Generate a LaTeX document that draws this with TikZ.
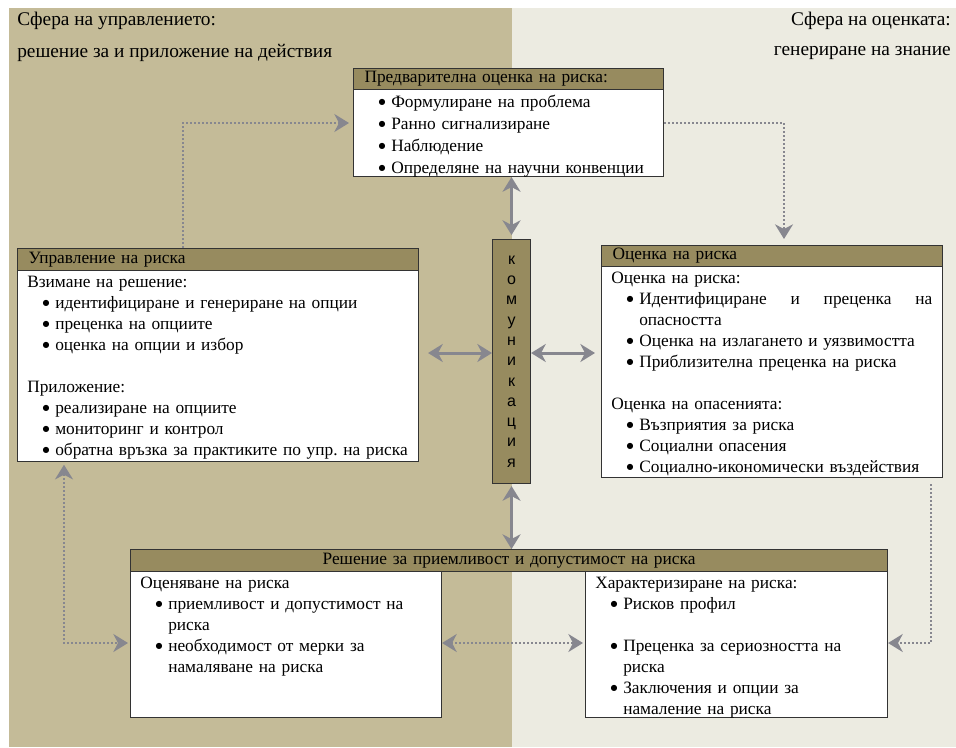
\documentclass[tikz,border=0pt]{standalone}
\usepackage{fontspec}
\setmainfont{Liberation Serif}
\newfontfamily\barfont{Liberation Sans}
\newfontfamily\dotfont{DejaVu Sans}
\usepackage{xcolor}
\usetikzlibrary{arrows.meta,calc}

\definecolor{leftbg}{HTML}{C4BB98}
\definecolor{rightbg}{HTML}{ECEBE1}
\definecolor{hdrcol}{HTML}{978B5F}
\definecolor{arrcol}{HTML}{87878F}
\setlength{\parindent}{0pt}
\frenchspacing
\newcommand{\itm}[1]{\hangindent=21pt\hangafter=1\noindent\hspace*{11.5pt}%
  \makebox[9.5pt][l]{\raisebox{2.3pt}{\dotfont\fontsize{6}{6}\selectfont ●}}#1\par}
\newcommand{\gap}{\vspace{15.75pt}}

\begin{document}
\begin{tikzpicture}[
  x=0.75pt, y=-0.75pt,
  font=\fontsize{13}{15.75}\selectfont,
  >={Stealth[length=11pt, width=13.5pt, inset=3.5pt]},
  title/.style={inner sep=0pt, font=\fontsize{14.5}{17}\selectfont},
  hdr/.style={draw=black!80, fill=hdrcol, line width=0.8pt, anchor=north west,
              minimum height=15.75pt, inner xsep=8.25pt, inner ysep=0pt, align=left},
  frame/.style={draw=black!80, fill=white, line width=0.8pt, anchor=north west,
                inner sep=0pt},
  txt/.style={anchor=north west, inner xsep=7.5pt, inner ysep=4.5pt, align=left},
  bar/.style={draw=black!80, fill=hdrcol, line width=0.8pt, anchor=north west,
              minimum width=28.5pt, minimum height=183pt, inner sep=0pt, align=center,
              font=\barfont\fontsize{12}{15.2}\selectfont},
  twoway/.style={<->, line width=2.25pt, draw=arrcol},
  dotarr/.style={->, line width=1.5pt, draw=arrcol, dash pattern=on 1.5pt off 1.5pt}
]
\useasboundingbox (0,0) rectangle (956,747);
\fill[leftbg]  (9,8) rectangle (512,747);
\fill[rightbg] (512,8) rectangle (956,747);

\node[title, anchor=west] (sl1) at (17,21) {Сфера на управлението:};
\node[title, anchor=west] (sl2) at (17,53) {решение за и приложение на действия};
\node[title, anchor=east] (sr1) at (951,21) {Сфера на оценката:};
\node[title, anchor=east] (sr2) at (951,53) {генериране на знание};

\node[hdr, text width=216pt] (pre-h) at (353,68) {Предварителна оценка на риска:};
\node[frame, minimum width=232.5pt, minimum height=65.25pt] (pre-b) at (353,89) {};
\node[txt, text width=217.5pt, inner ysep=4.25pt, font=\fontsize{13}{16.5}\selectfont]
  (pre-t) at (pre-b.north west)
  {\itm{Формулиране на проблема}\itm{Ранно сигнализиране}\itm{Наблюдение}%
   \itm{Определяне на научни конвенции}};

\node[hdr, text width=284.25pt, minimum height=16.5pt] (mgmt-h) at (17,248) {Управление на риска};
\node[frame, minimum width=300.75pt, minimum height=143.25pt] (mgmt-b) at (17,270) {};
\node[txt, text width=292pt] (mgmt-t) at (mgmt-b.north west)
  {Взимане на решение:\par\itm{идентифициране и генериране на опции}\itm{преценка на опциите}%
   \itm{оценка на опции и избор}\gap Приложение:\par\itm{реализиране на опциите}%
   \itm{мониторинг и контрол}\itm{обратна връзка за практиките по упр. на риска}};

\node[hdr, text width=239.25pt] (asm-h) at (601,245) {Оценка на риска};
\node[frame, minimum width=255.75pt, minimum height=158.25pt] (asm-b) at (601,266) {};
\node[txt, text width=240.75pt] (asm-t) at (asm-b.north west)
  {Оценка на риска:\par\itm{Идентифициране\hfill и\hfill преценка\hfill на\newline опасността}%
   \itm{Оценка на излагането и уязвимостта}\itm{Приблизителна преценка на риска}%
   \gap Оценка на опасенията:\par\itm{Възприятия за риска}\itm{Социални опасения}%
   \itm{Социално-икономически въздействия}};

\node[bar] (bar) at (492,239) {к\\о\\м\\у\\н\\и\\к\\а\\ц\\и\\я};

\node[hdr, text width=551.25pt, minimum height=16.5pt, align=center] (bot-h) at (130,549)
  {Решение за приемливост и допустимост на риска};
\node[frame, minimum width=233.25pt, minimum height=109.5pt] (eval-b) at (130,571) {};
\node[txt, text width=218.25pt] (eval-t) at (eval-b.north west)
  {Оценяване на риска\par\itm{приемливост и допустимост на\newline риска}%
   \itm{необходимост от мерки за\newline намаляване на риска}};
\node[frame, minimum width=226.5pt, minimum height=109.5pt] (char-b) at (585,571) {};
\node[txt, text width=211.5pt] (char-t) at (char-b.north west)
  {Характеризиране на риска:\par\itm{Рисков профил}\gap
   \itm{Преценка за сериозността на\newline риска}%
   \itm{Заключения и опции за\newline намаление на риска}};

\coordinate (tl) at (183,123);
\coordinate (tr) at (784,123);
\coordinate (bl) at (64,643);
\coordinate (br) at (931,643);
\coordinate (mid) at (511,353);

\draw[dotarr, shorten >=3pt] (tl |- mgmt-h.north) |- (pre-b.west |- tl);
\draw[dotarr, shorten >=4.5pt] (pre-b.east |- tr) -| (tr |- asm-h.north);
\draw[dotarr, <->, shorten <=2pt, shorten >=1.5pt] (bl |- mgmt-b.south) |- (eval-b.west |- bl);
\draw[dotarr, <->, shorten >=1.5pt] (eval-b.east |- bl) -- (char-b.west |- bl);
\draw[dotarr, shorten <=4.5pt] (br |- asm-b.south) |- (char-b.east |- br);

\draw[twoway, shorten >=3pt] (bar.north |- pre-b.south) -- (bar.north);
\draw[twoway, shorten <=6.75pt] (mgmt-b.east |- mid) -- (bar.west |- mid);
\draw[twoway, shorten >=4.5pt] (bar.east |- mid) -- (asm-b.west |- mid);
\draw[twoway, shorten <=1.5pt] (bar.south) -- (bar.south |- bot-h.north);
\end{tikzpicture}
\end{document}
